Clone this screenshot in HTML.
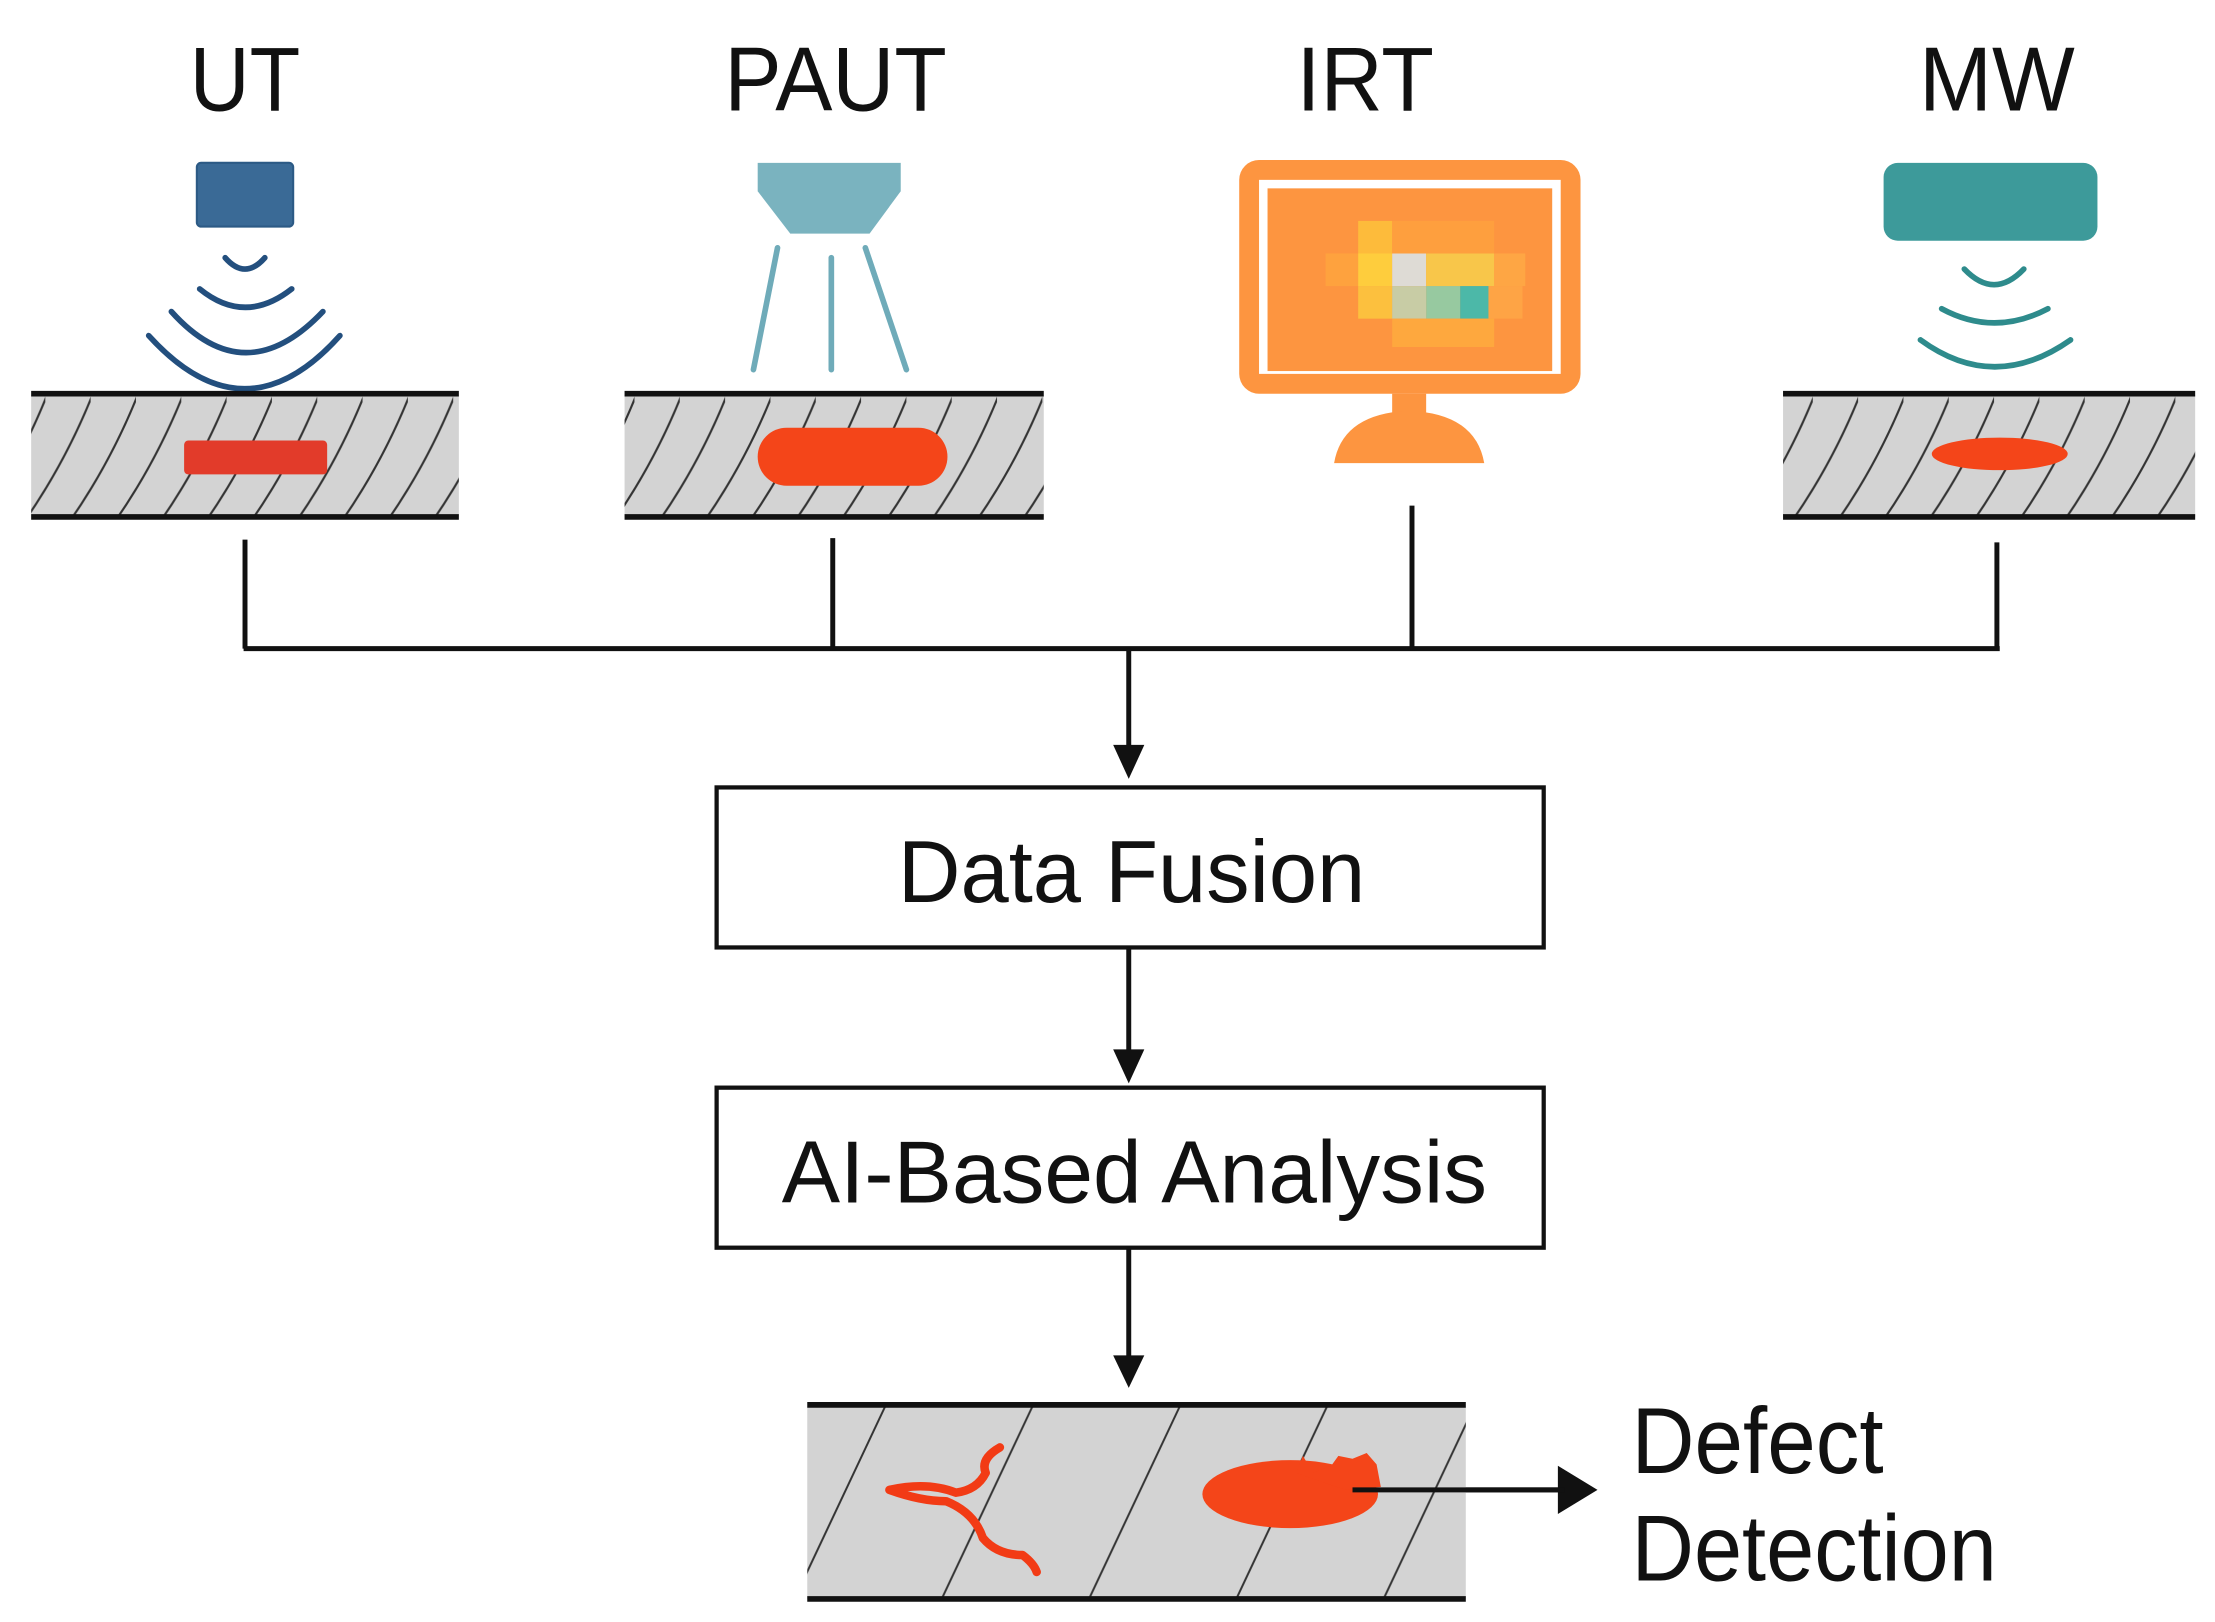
<!DOCTYPE html>
<html><head><meta charset="utf-8"><style>
html,body{margin:0;padding:0;background:#fff;}
svg{display:block;}
text{font-family:"Liberation Sans",sans-serif;fill:#111;}
</style></head><body>
<svg width="2215" height="1622" viewBox="0 0 1564 1145.3" preserveAspectRatio="none" xmlns="http://www.w3.org/2000/svg">
<defs>
<pattern id="h1" patternUnits="userSpaceOnUse" width="32" height="90" patternTransform="translate(0,277)">
<path d="M-14 90 Q15 48 34 0" fill="none" stroke="#333" stroke-width="1.5"/>
<path d="M18 90 Q47 48 66 0" fill="none" stroke="#333" stroke-width="1.5"/>
</pattern>
<pattern id="h2" patternUnits="userSpaceOnUse" width="104" height="140" patternTransform="translate(560,991)">
<line x1="0" y1="140" x2="66" y2="0" stroke="#333" stroke-width="1.4"/>
<line x1="104" y1="140" x2="170" y2="0" stroke="#333" stroke-width="1.4"/>
</pattern>
</defs>

<text x="173" y="78" font-size="64" text-anchor="middle" textLength="78" lengthAdjust="spacingAndGlyphs">UT</text>
<text x="590" y="78" font-size="64" text-anchor="middle" textLength="157" lengthAdjust="spacingAndGlyphs">PAUT</text>
<text x="964" y="78" font-size="64" text-anchor="middle" textLength="97" lengthAdjust="spacingAndGlyphs">IRT</text>
<text x="1410" y="78" font-size="64" text-anchor="middle" textLength="110" lengthAdjust="spacingAndGlyphs">MW</text>

<rect x="139" y="115" width="68" height="45" rx="3" fill="#3a6a96" stroke="#2c5a85" stroke-width="1.5"/>
<g fill="none" stroke="#234f7e" stroke-width="4" stroke-linecap="round">
<path d="M159 182 Q173 198 187 182"/>
<path d="M141 204 Q173 230 206 204"/>
<path d="M121 220 Q173 278 228 220"/>
<path d="M105 237 Q173 312 240 237"/>
</g>
<rect x="22" y="279" width="302" height="86" fill="#d3d3d3"/>
<rect x="22" y="279" width="302" height="86" fill="url(#h1)"/>
<line x1="22" y1="278" x2="324" y2="278" stroke="#111" stroke-width="4"/>
<line x1="22" y1="365" x2="324" y2="365" stroke="#111" stroke-width="4"/>
<rect x="130" y="311" width="101" height="24" rx="3" fill="#e23b2a"/>

<path d="M535 115 L636 115 L636 135 L614 165 L558 165 L535 135 Z" fill="#7ab3bf"/>
<g stroke="#6fabb9" stroke-width="4" stroke-linecap="round">
<line x1="549" y1="175" x2="532" y2="261"/>
<line x1="587" y1="182" x2="587" y2="261"/>
<line x1="611" y1="175" x2="640" y2="261"/>
</g>
<rect x="441" y="279" width="296" height="86" fill="#d3d3d3"/>
<rect x="441" y="279" width="296" height="86" fill="url(#h1)"/>
<line x1="441" y1="278" x2="737" y2="278" stroke="#111" stroke-width="4"/>
<line x1="441" y1="365" x2="737" y2="365" stroke="#111" stroke-width="4"/>
<rect x="535" y="302" width="134" height="41" rx="20.5" fill="#f44519"/>

<rect x="875" y="113" width="241" height="165" rx="14" fill="#fd9540"/>
<rect x="889" y="127" width="213" height="137" fill="#fff"/>
<rect x="895" y="133" width="201" height="129" fill="#fd9540"/>
<g>
<rect x="936" y="179" width="23" height="23" fill="#fea23e"/>
<rect x="959" y="156" width="24" height="23" fill="#fdbb3b"/>
<rect x="983" y="156" width="72" height="23" fill="#fe9f3e"/>
<rect x="959" y="179" width="24" height="23" fill="#fecd3d"/>
<rect x="983" y="179" width="24" height="23" fill="#dedbd5"/>
<rect x="1007" y="179" width="48" height="23" fill="#f8c64a"/>
<rect x="1055" y="179" width="22" height="23" fill="#fea644"/>
<rect x="959" y="202" width="24" height="23" fill="#fcc03e"/>
<rect x="983" y="202" width="24" height="23" fill="#c8cca5"/>
<rect x="1007" y="202" width="24" height="23" fill="#97c9a0"/>
<rect x="1031" y="202" width="20" height="23" fill="#4cb8a8"/>
<rect x="1051" y="202" width="24" height="23" fill="#fea445"/>
<rect x="983" y="225" width="72" height="20" fill="#fea83e"/>
</g>
<rect x="983" y="278" width="24" height="24" fill="#fd9540"/>
<path d="M942 327 Q948 292 995 290 Q1042 292 1048 327 Z" fill="#fd9540"/>

<rect x="1330" y="115" width="151" height="55" rx="10" fill="#3d9a9a"/>
<g fill="none" stroke="#2e8b8c" stroke-width="4" stroke-linecap="round">
<path d="M1387 190 Q1408 212 1429 190"/>
<path d="M1371 218 Q1408 238 1446 218"/>
<path d="M1356 240 Q1408 278 1462 240"/>
</g>
<rect x="1259" y="279" width="291" height="86" fill="#d3d3d3"/>
<rect x="1259" y="279" width="291" height="86" fill="url(#h1)"/>
<line x1="1259" y1="278" x2="1550" y2="278" stroke="#111" stroke-width="4"/>
<line x1="1259" y1="365" x2="1550" y2="365" stroke="#111" stroke-width="4"/>
<ellipse cx="1412" cy="320.5" rx="48" ry="11.5" fill="#f44519"/>

<g stroke="#111" stroke-width="3.5" fill="none">
<line x1="173" y1="381" x2="173" y2="458"/>
<line x1="588" y1="380" x2="588" y2="458"/>
<line x1="997" y1="357" x2="997" y2="458"/>
<line x1="1410" y1="383" x2="1410" y2="458"/>
<line x1="172" y1="458" x2="1412" y2="458"/>
<line x1="797" y1="458" x2="797" y2="530"/>
<line x1="797" y1="669" x2="797" y2="745"/>
<line x1="797" y1="881" x2="797" y2="960"/>
<line x1="955" y1="1052" x2="1105" y2="1052"/>
</g>
<g fill="#111">
<path d="M786 526 L808 526 L797 550 Z"/>
<path d="M786 741 L808 741 L797 765 Z"/>
<path d="M786 957 L808 957 L797 980 Z"/>
<path d="M1100 1035 L1128 1052 L1100 1069 Z"/>
</g>

<rect x="506" y="556" width="584" height="113" fill="#fff" stroke="#111" stroke-width="3"/>
<text x="799" y="637" font-size="62" text-anchor="middle" textLength="330" lengthAdjust="spacingAndGlyphs">Data Fusion</text>
<rect x="506" y="768" width="584" height="113" fill="#fff" stroke="#111" stroke-width="3"/>
<text x="801" y="849" font-size="62" text-anchor="middle" textLength="498" lengthAdjust="spacingAndGlyphs">AI-Based Analysis</text>

<rect x="570" y="993" width="465" height="136" fill="#d3d3d3"/>
<rect x="570" y="993" width="465" height="136" fill="url(#h2)"/>
<line x1="570" y1="992" x2="1035" y2="992" stroke="#111" stroke-width="4"/>
<line x1="570" y1="1129" x2="1035" y2="1129" stroke="#111" stroke-width="4"/>
<path d="M706 1022 Q692 1030 696 1040 Q690 1052 675 1054 Q655 1046 628 1052 Q650 1060 668 1060 Q688 1068 694 1086 Q704 1098 722 1098 Q730 1104 732 1110" fill="none" stroke="#f23b15" stroke-width="6" stroke-linecap="round" stroke-linejoin="round"/>
<ellipse cx="911" cy="1055" rx="62" ry="24" fill="#f44519"/>
<path d="M915 1040 L920 1028 L927 1040 L940 1035 L945 1028 L955 1030 L965 1026 L972 1034 L975 1050 L950 1052 Z" fill="#f44519"/>
<line x1="955" y1="1052" x2="1105" y2="1052" stroke="#111" stroke-width="3.5"/>
<text x="1152" y="1040" font-size="66" textLength="178" lengthAdjust="spacingAndGlyphs">Defect</text>
<text x="1152" y="1116" font-size="66" textLength="258" lengthAdjust="spacingAndGlyphs">Detection</text>
</svg>
</body></html>
